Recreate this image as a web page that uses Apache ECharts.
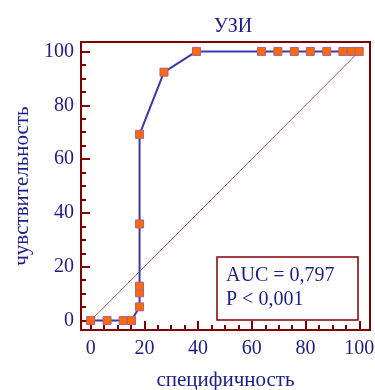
<!DOCTYPE html>
<html>
<head>
<meta charset="utf-8">
<script src="https://cdn.jsdelivr.net/npm/echarts@6/dist/echarts.min.js"></script>
<style>
  html, body { margin: 0; padding: 0; background: #fff; }
  #chart { width: 375px; height: 390px; }
</style>
</head>
<body>
<div id="chart"></div>
<script>
// ROC curve for УЗИ: specificity (x) vs sensitivity (y), in %
const specificity = [0, 6.1, 12.1, 15.2, 18.2, 18.2, 18.2, 18.2, 18.2, 27.3, 39.4, 63.6, 69.7, 75.8, 81.8, 87.9, 93.9, 97.0, 100];
const sensitivity = [0, 0, 0, 0, 5.1, 10.3, 12.8, 35.9, 69.2, 92.3, 100, 100, 100, 100, 100, 100, 100, 100, 100];
const diagonal = [[0, 0], [100, 100]];
const majorTicks = [0, 20, 40, 60, 80, 100];
const minorTicks = [5, 10, 15, 25, 30, 35, 45, 50, 55, 65, 70, 75, 85, 90, 95];
const aucText = "AUC = 0,797";
const pText = "P < 0,001";

const frameColor = "#800000";
const textColor = "#1c1c8c";
const serif = "'Liberation Serif', 'DejaVu Serif', serif";

const chart = echarts.init(document.getElementById("chart"));

// major axis carries labels + long ticks, minor one only the short ticks
function makeAxis(isX, minor) {
	const ax = {
		type: "value",
		position: isX ? "bottom" : "left",
		min: isX ? -3.6 : -3.5,
		max: isX ? 104 : 103.5,
		axisLine: { show: false, onZero: false },
		splitLine: { show: false },
		axisTick: {
			show: true,
			inside: true,
			length: minor ? 5 : 9,
			customValues: minor ? minorTicks : majorTicks,
			lineStyle: { color: frameColor, width: 2 },
		},
		axisLabel: minor
			? { show: false }
			: {
					customValues: majorTicks,
					color: textColor,
					fontFamily: serif,
					fontSize: 20,
					margin: isX ? 9 : 7,
				},
	};
	if (!minor) {
		ax.name = isX ? "специфичность" : "чувствительность";
		ax.nameLocation = "middle";
		ax.nameGap = isX ? 40 : 47;
		ax.nameTextStyle = { color: textColor, fontFamily: serif, fontSize: 21 };
	}
	return ax;
}

chart.setOption({
	animation: false,
	backgroundColor: "#fff",
	title: {
		text: "УЗИ",
		left: 228,
		top: 12,
		textAlign: "center",
		textStyle: { color: textColor, fontFamily: serif, fontSize: 20, fontWeight: "normal" },
	},
	grid: {
		left: 81,
		right: 5,
		top: 42,
		bottom: 60,
		outerBoundsMode: "none",
		containLabel: false,
		show: true,
		borderColor: frameColor,
		borderWidth: 2,
		backgroundColor: "#fff",
	},
	xAxis: [makeAxis(true, false), makeAxis(true, true)],
	yAxis: [makeAxis(false, false), makeAxis(false, true)],
	series: [
		{
			type: "line",
			data: diagonal,
			symbol: "none",
			lineStyle: { color: "#a85858", width: 1 },
			z: 1,
		},
		{
			type: "line",
			data: specificity.map((x, i) => [x, sensitivity[i]]),
			symbol: "rect",
			symbolSize: 8,
			itemStyle: { color: "#ff6a00", borderColor: "#a8609a", borderWidth: 1 },
			lineStyle: { color: "#3b3ba6", width: 2 },
			z: 3,
		},
	],
	graphic: [
		{
			type: "rect",
			shape: { x: 217, y: 257, width: 141, height: 63 },
			style: { fill: "#fff", stroke: frameColor, lineWidth: 1.5 },
			z: 10,
		},
		{
			type: "text",
			x: 226,
			y: 276,
			style: { text: aucText, fill: textColor, font: "20px " + serif, textVerticalAlign: "middle" },
			z: 11,
		},
		{
			type: "text",
			x: 226,
			y: 300,
			style: { text: pText, fill: textColor, font: "20px " + serif, textVerticalAlign: "middle" },
			z: 11,
		},
	],
});
</script>
</body>
</html>
